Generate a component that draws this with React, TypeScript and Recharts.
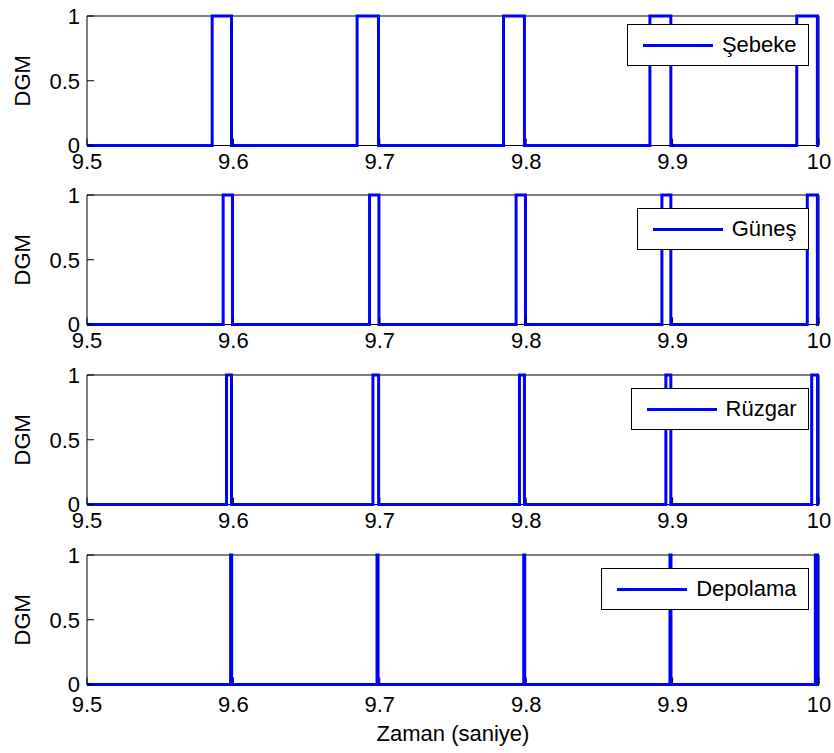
import React from 'react';
import { LineChart, Line, XAxis, YAxis, Legend, CartesianGrid } from 'recharts';

const FONT = 'Arial, "Liberation Sans", sans-serif';
const BLUE = '#0000ff';

// eksen değerleri
const xTicks = [9.5, 9.6, 9.7, 9.8, 9.9, 10];
const yTicks = [0, 0.5, 1];

// darbe açılma / kapanma anları (saniye)
const sebekeOn = [9.5855, 9.6845, 9.7845, 9.8845, 9.9848];
const sebekeOff = [9.5987, 9.6991, 9.7988, 9.8988, 9.9989];

const gunesOn = [9.593, 9.693, 9.7931, 9.8927, 9.992];
const gunesOff = [9.5994, 9.6994, 9.7995, 9.8988, 9.9989];

const ruzgarOn = [9.5953, 9.6953, 9.7954, 9.8954, 9.995];
const ruzgarOff = [9.5987, 9.6992, 9.7988, 9.8988, 9.999];

const depolamaOn = [9.5981, 9.6981, 9.7983, 9.8982, 9.9975];
const depolamaOff = [9.5988, 9.6988, 9.799, 9.8989, 9.999];

const names = ['Şebeke', 'Güneş', 'Rüzgar', 'Depolama'];

// kare dalga noktaları
const toPulses = (on: number[], off: number[]) => {
  const pts = [{ t: xTicks[0], v: 0 }];
  on.forEach((t, i) => {
    pts.push({ t, v: 0 }, { t, v: 1 }, { t: off[i], v: 1 }, { t: off[i], v: 0 });
  });
  pts.push({ t: xTicks[xTicks.length - 1], v: 0 });
  return pts;
};

const seriesData = [
  toPulses(sebekeOn, sebekeOff),
  toPulses(gunesOn, gunesOff),
  toPulses(ruzgarOn, ruzgarOff),
  toPulses(depolamaOn, depolamaOff),
];

const legendTops = [24, 28, 28, 28];
const tickGaps = [15, 15, 15, 19];
const PLOT_H = 129.5;

const LegendBox = (props: any) => {
  const item = (props.payload || [])[0];
  if (!item) return null;
  return (
    <div style={{ display: 'flex', justifyContent: 'flex-end' }}>
      <div
        style={{
          border: '1px solid #000',
          background: '#fff',
          height: 40,
          display: 'flex',
          alignItems: 'center',
          padding: '0 11px 0 15px',
          fontFamily: FONT,
        }}
      >
        <span style={{ display: 'inline-block', width: 70, height: 3, background: item.color }} />
        <span style={{ marginLeft: 9, fontSize: 22, color: '#000', lineHeight: '22px' }}>{item.value}</span>
      </div>
    </div>
  );
};

// çerçeve: grid katmanı çizginin altında kalır
const boxRows = ({ offset }: any) => [offset.top, offset.top + offset.height];
const boxCols = ({ offset }: any) => [offset.left, offset.left + offset.width];

const Panel = ({ index }: { index: number }) => {
  const last = index === names.length - 1;
  const top = index === 0 ? 16 : 15;
  const height = last ? 213 : 180;
  const axisH = height - top - PLOT_H;

  return (
    <div style={{ position: 'absolute', left: 0, top: index * 180 }}>
      <LineChart
        width={834}
        height={height}
        data={seriesData[index]}
        margin={{ top, right: 15, bottom: 0, left: 0 }}
        style={{ fontFamily: FONT }}
      >
        <CartesianGrid
          stroke="#000"
          strokeOpacity={1}
          horizontalCoordinatesGenerator={boxRows}
          verticalCoordinatesGenerator={boxCols}
        />
        <XAxis
          dataKey="t"
          type="number"
          domain={[9.5, 10]}
          ticks={xTicks}
          interval={0}
          tickFormatter={(v) => String(v)}
          height={axisH}
          tickSize={-7}
          tickMargin={tickGaps[index]}
          axisLine={false}
          tickLine={{ stroke: '#000' }}
          tick={{ fontSize: 22, fill: '#000' }}
          label={
            last
              ? {
                  content: ({ viewBox }: any) => (
                    <text
                      x={viewBox.x + viewBox.width / 2}
                      y={viewBox.y + 56.5}
                      textAnchor="middle"
                      fontSize={22}
                      fill="#000"
                    >
                      Zaman (saniye)
                    </text>
                  ),
                }
              : undefined
          }
        />
        <XAxis
          xAxisId="top"
          orientation="top"
          type="number"
          domain={[9.5, 10]}
          ticks={xTicks}
          interval={0}
          height={0}
          allowDataOverflow
          tick={false}
          tickSize={-7}
          axisLine={false}
          tickLine={{ stroke: '#000' }}
        />
        <YAxis
          type="number"
          domain={[0, 1]}
          ticks={yTicks}
          interval={0}
          width={87}
          tickSize={-7}
          tickMargin={14}
          axisLine={false}
          tickLine={{ stroke: '#000' }}
          tick={{ fontSize: 22, fill: '#000' }}
          label={{
            content: ({ viewBox }: any) => (
              <text
                x={22}
                y={viewBox.y + viewBox.height / 2}
                transform={`rotate(-90, 22, ${viewBox.y + viewBox.height / 2})`}
                textAnchor="middle"
                dominantBaseline="central"
                fontSize={22}
                fill="#000"
              >
                DGM
              </text>
            ),
          }}
        />
        <YAxis
          yAxisId="right"
          orientation="right"
          type="number"
          domain={[0, 1]}
          ticks={yTicks}
          interval={0}
          width={0}
          allowDataOverflow
          tick={false}
          tickSize={-7}
          axisLine={false}
          tickLine={{ stroke: '#000' }}
        />
        <Line
          type="linear"
          dataKey="v"
          name={names[index]}
          stroke={BLUE}
          strokeWidth={3}
          dot={false}
          activeDot={false}
          isAnimationActive={false}
        />
        <Legend
          layout="horizontal"
          verticalAlign="middle"
          align="center"
          wrapperStyle={{ left: 0, top: legendTops[index], width: 808.5 }}
          content={LegendBox}
        />
      </LineChart>
    </div>
  );
};

export default function App() {
  return (
    <div style={{ position: 'absolute', left: 0, top: 0, width: 834, height: 753, background: '#fff' }}>
      {names.map((n, i) => (
        <Panel key={n} index={i} />
      ))}
    </div>
  );
}
